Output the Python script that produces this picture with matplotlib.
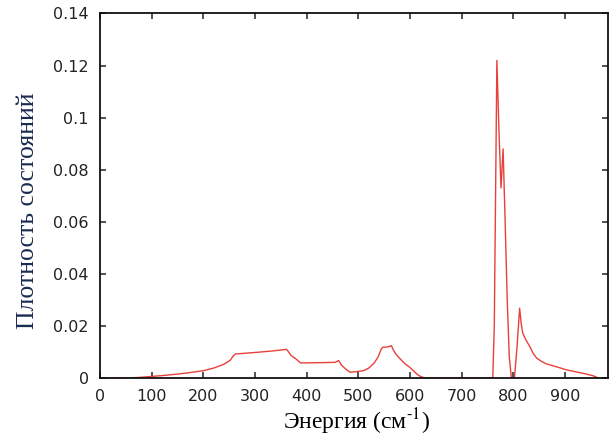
import numpy as np
import matplotlib
matplotlib.use("Agg")
import matplotlib.pyplot as plt

# Density of states
energy = [0, 25, 50, 75, 100, 125, 150, 175, 200, 220, 240, 252, 258, 262,
          300, 330, 361, 365, 370, 380, 388, 400, 430, 455, 462, 467, 475,
          484, 495, 510, 520, 530, 538, 544, 547, 556, 564, 567, 572, 580,
          590, 600, 608, 615, 622, 630, 700, 760, 763, 768, 772, 776, 780,
          784, 788, 792, 796, 802, 807, 812, 815, 818, 822, 826, 832, 838,
          845, 855, 864, 880, 903, 920, 941, 955, 964]
dos = [0, 0, 0, 0.0002, 0.0006, 0.0010, 0.0015, 0.0021, 0.0028, 0.0038,
       0.0053, 0.0068, 0.0085, 0.0092, 0.0098, 0.0103, 0.0110, 0.0100,
       0.0086, 0.0072, 0.0058, 0.0058, 0.0059, 0.0060, 0.0067, 0.0050,
       0.0035, 0.0022, 0.0024, 0.0028, 0.0038, 0.0056, 0.0080, 0.0110,
       0.0118, 0.0119, 0.0124, 0.0110, 0.0093, 0.0075, 0.0055, 0.0040,
       0.0025, 0.0012, 0.0004, 0, 0, 0, 0.02, 0.122, 0.095, 0.073, 0.088,
       0.060, 0.030, 0.008, 0, 0, 0.012, 0.0268, 0.021, 0.0172, 0.0155,
       0.0140, 0.0120, 0.0095, 0.0076, 0.0063, 0.0054, 0.0045, 0.0031,
       0.0024, 0.0015, 0.0008, 0]

xticks = [0, 100, 200, 300, 400, 500, 600, 700, 800, 900]
yticks = [0, 0.02, 0.04, 0.06, 0.08, 0.1, 0.12, 0.14]
ytick_labels = ["0", "0.02", "0.04", "0.06", "0.08", "0.1", "0.12", "0.14"]

plt.rcParams["mathtext.fontset"] = "stix"

fig = plt.figure(figsize=(6.16, 4.41), dpi=100)
ax = fig.add_axes([0.1623, 0.1429, 0.8247, 0.8265])

ax.plot(energy, dos, color="#e8403a", linewidth=1.0)

ax.set_xlim(0, 983)
ax.set_ylim(0, 0.14)
ax.set_xticks(xticks)
ax.set_yticks(yticks)
ax.set_yticklabels(ytick_labels)

ax.tick_params(direction="in", length=4, width=1.1, top=True, right=True,
               labelsize=11.5, pad=8, colors="#222222", labelcolor="#222222")
for side in ax.spines.values():
    side.set_linewidth(1.3)
    side.set_color("#111111")

ax.set_xlabel("Энергия (см$^{\\text{-}1}$)", family="Liberation Serif",
              fontsize=17)
ax.set_ylabel("Плотность состояний", family="Liberation Serif", fontsize=18.5,
              color="#1a2a50")
ax.xaxis.set_label_coords(0.506, -0.078)
ax.yaxis.set_label_coords(-0.12, 0.46)

fig.savefig("out.png", dpi=100)
